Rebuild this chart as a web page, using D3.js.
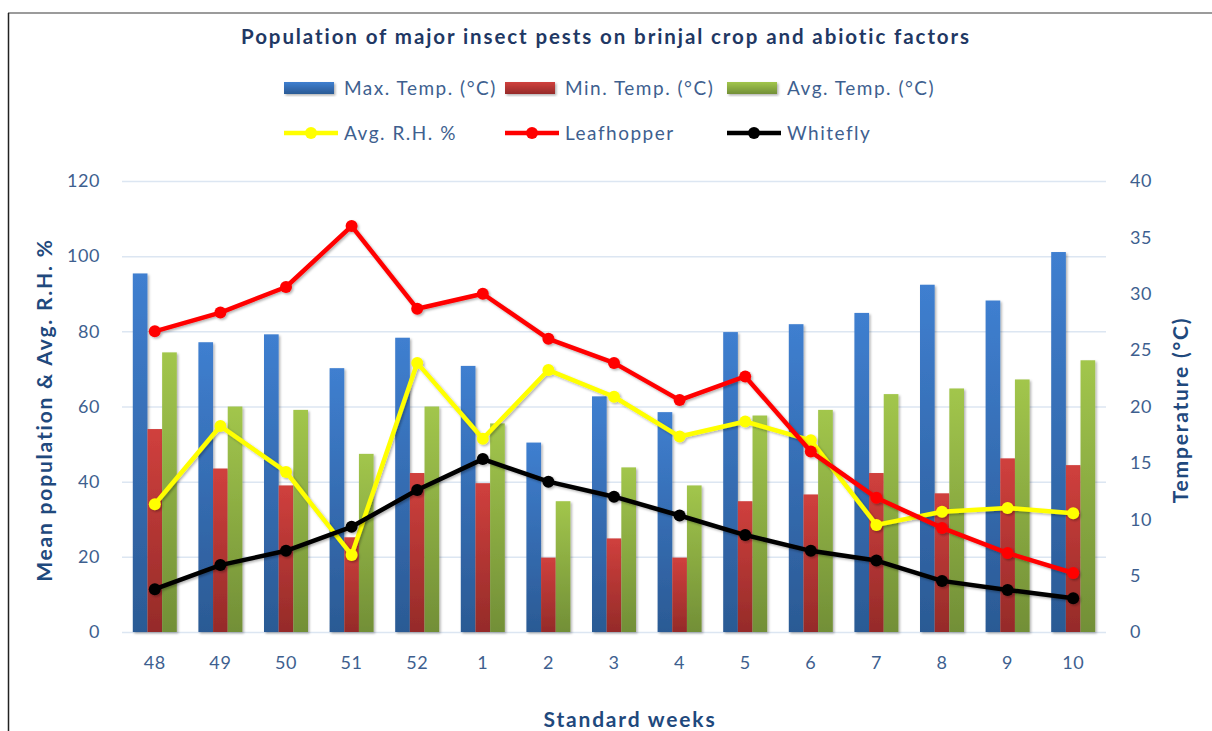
<!DOCTYPE html>
<html>
<head>
<meta charset="utf-8">
<script src="https://cdn.jsdelivr.net/npm/d3@7"></script>
<style>
  body { margin: 0; background: #fff; }
  svg { display: block; font-family: Lato, "Open Sans", sans-serif; }
  .tick text { fill: #3e5f8f; font-size: 18px; letter-spacing: 0.6px; }
  .grid line { stroke: #dce6f2; stroke-width: 1.5; }
  .axis-title { font-size: 21px; font-weight: bold; fill: #1f497d; letter-spacing: 1.8px; }
  .legend text { font-size: 19px; fill: #3e5f8f; letter-spacing: 1.5px; }
</style>
</head>
<body>
<svg id="chart" width="1212" height="731"></svg>
<script>
const weeks = ['48', '49', '50', '51', '52', '1', '2', '3', '4', '5', '6', '7', '8', '9', '10'];
const maxTemp = [31.8, 25.7, 26.4, 23.4, 26.1, 23.6, 16.8, 20.9, 19.5, 26.6, 27.3, 28.3, 30.8, 29.4, 33.7];
const minTemp = [18.0, 14.5, 13.0, 8.4, 14.1, 13.2, 6.6, 8.3, 6.6, 11.6, 12.2, 14.1, 12.3, 15.4, 14.8];
const avgTemp = [24.8, 20.0, 19.7, 15.8, 20.0, 18.5, 11.6, 14.6, 13.0, 19.2, 19.7, 21.1, 21.6, 22.4, 24.1];
const avgRH = [34, 54.8, 42.6, 20.5, 71.6, 51.4, 69.7, 62.6, 52, 56, 51, 28.5, 32, 33, 31.6];
const leafhopper = [80, 85, 91.8, 108, 86, 90, 78, 71.6, 61.7, 68, 48, 35.7, 27.7, 21, 15.7];
const whitefly = [11.4, 17.8, 21.6, 28, 37.8, 46, 40, 36, 31, 25.8, 21.6, 19, 13.6, 11.2, 9];
const leftTicks = [0, 20, 40, 60, 80, 100, 120];
const rightTicks = [0, 5, 10, 15, 20, 25, 30, 35, 40];

const barSeries = [
  { name: 'Max. Temp. (°C)', values: maxTemp, top: '#3f7fd0', bottom: '#2b5a94', id: 'gBlue' },
  { name: 'Min. Temp. (°C)', values: minTemp, top: '#d0403d', bottom: '#952b29', id: 'gRed' },
  { name: 'Avg. Temp. (°C)', values: avgTemp, top: '#a2c64c', bottom: '#728f37', id: 'gGreen' },
];
const lineSeries = [
  { name: 'Avg. R.H. %', values: avgRH, color: '#ffff00' },
  { name: 'Leafhopper', values: leafhopper, color: '#ff0000' },
  { name: 'Whitefly', values: whitefly, color: '#000000' },
];

const margin = { top: 181, right: 106, bottom: 99, left: 122 };
const width = 1212 - margin.left - margin.right;
const height = 731 - margin.top - margin.bottom;

const svg = d3.select('#chart');
const defs = svg.append('defs');

barSeries.forEach(s => {
  const g = defs.append('linearGradient')
    .attr('id', s.id)
    .attr('x1', 0).attr('y1', 0).attr('x2', 0).attr('y2', 1);
  g.append('stop').attr('offset', '0%').attr('stop-color', s.top);
  g.append('stop').attr('offset', '100%').attr('stop-color', s.bottom);
});

const shadow = defs.append('filter').attr('id', 'shadow')
  .attr('x', '-20%').attr('y', '-20%').attr('width', '140%').attr('height', '140%');
shadow.append('feDropShadow')
  .attr('dx', 1.5).attr('dy', 1.5).attr('stdDeviation', 1.2)
  .attr('flood-color', '#000').attr('flood-opacity', 0.3);

// frame
svg.append('line').attr('x1', 8).attr('x2', 1212).attr('y1', 13).attr('y2', 13)
  .attr('stroke', '#7a7a7a').attr('stroke-width', 1.5);
svg.append('line').attr('x1', 8.5).attr('x2', 8.5).attr('y1', 13).attr('y2', 731)
  .attr('stroke', '#222').attr('stroke-width', 1.5);

svg.append('text')
  .attr('x', 606).attr('y', 44)
  .attr('text-anchor', 'middle')
  .attr('font-size', 20.5).attr('font-weight', 'bold')
  .attr('letter-spacing', 1.9)
  .attr('fill', '#1f3864')
  .text('Population of major insect pests on brinjal crop and abiotic factors');

const x = d3.scaleBand().domain(weeks).range([0, width]);
const xInner = d3.scaleBand().domain(barSeries.map(s => s.id))
  .range([x.bandwidth() / 2 - 22, x.bandwidth() / 2 + 22]);
const yLeft = d3.scaleLinear().domain([0, 120]).range([height, 0]);
const yRight = d3.scaleLinear().domain([0, 40]).range([height, 0]);

const canvas = svg.append('g')
  .attr('transform', `translate(${margin.left},${margin.top})`);

canvas.append('g')
  .attr('class', 'grid')
  .call(d3.axisLeft(yLeft).tickValues(leftTicks).tickSize(-width).tickFormat(''))
  .call(g => g.select('.domain').remove());

// bars
barSeries.forEach(s => {
  canvas.append('g')
    .attr('filter', 'url(#shadow)')
    .selectAll('rect')
    .data(s.values)
    .join('rect')
    .attr('x', (d, i) => x(weeks[i]) + xInner(s.id))
    .attr('width', xInner.bandwidth())
    .attr('y', d => yRight(d))
    .attr('height', d => yRight(0) - yRight(d))
    .attr('fill', `url(#${s.id})`);
});

// lines
const line = d3.line()
  .x((d, i) => x(weeks[i]) + x.bandwidth() / 2)
  .y(d => yLeft(d));

lineSeries.forEach(s => {
  const g = canvas.append('g').attr('filter', 'url(#shadow)');
  g.append('path')
    .datum(s.values)
    .attr('d', line)
    .attr('fill', 'none')
    .attr('stroke', s.color)
    .attr('stroke-width', 4.5)
    .attr('stroke-linejoin', 'round');
  g.selectAll('circle')
    .data(s.values)
    .join('circle')
    .attr('cx', (d, i) => x(weeks[i]) + x.bandwidth() / 2)
    .attr('cy', d => yLeft(d))
    .attr('r', 6)
    .attr('fill', s.color);
});

// axes
canvas.append('g')
  .attr('transform', `translate(0,${height})`)
  .call(d3.axisBottom(x).tickSize(0).tickPadding(24))
  .call(g => g.select('.domain').remove());

canvas.append('g')
  .call(d3.axisLeft(yLeft).tickValues(leftTicks).tickSize(0).tickPadding(22))
  .call(g => g.select('.domain').remove());

canvas.append('g')
  .attr('transform', `translate(${width},0)`)
  .call(d3.axisRight(yRight).tickValues(rightTicks).tickSize(0).tickPadding(24))
  .call(g => g.select('.domain').remove());

svg.selectAll('.tick text').attr('font-family', 'Lato, sans-serif');

svg.append('text')
  .attr('class', 'axis-title')
  .attr('transform', 'translate(52,410) rotate(-90)')
  .attr('text-anchor', 'middle')
  .text('Mean population & Avg. R.H. %');

svg.append('text')
  .attr('class', 'axis-title')
  .attr('transform', 'translate(1188,410) rotate(-90)')
  .attr('text-anchor', 'middle')
  .text('Temperature (°C)');

svg.append('text')
  .attr('class', 'axis-title')
  .attr('x', 630).attr('y', 727)
  .attr('text-anchor', 'middle')
  .text('Standard weeks');

// legend
const legendX = [284, 505, 727];
const legend = svg.append('g').attr('class', 'legend');
const barLegend = legend.append('g').selectAll('g')
  .data(barSeries)
  .join('g')
  .attr('transform', (d, i) => `translate(${legendX[i]},88)`);
barLegend.append('rect')
  .attr('x', 0).attr('y', -6).attr('width', 50).attr('height', 12)
  .attr('fill', d => `url(#${d.id})`)
  .attr('filter', 'url(#shadow)');
barLegend.append('text')
  .attr('x', 60).attr('y', 7)
  .text(d => d.name);

const lineLegend = legend.append('g').selectAll('g')
  .data(lineSeries)
  .join('g')
  .attr('transform', (d, i) => `translate(${legendX[i]},133)`);
lineLegend.append('line')
  .attr('x1', 0).attr('x2', 54)
  .attr('stroke', d => d.color).attr('stroke-width', 4.5);
lineLegend.append('circle')
  .attr('cx', 27).attr('r', 6)
  .attr('fill', d => d.color);
lineLegend.append('text')
  .attr('x', 60).attr('y', 7)
  .text(d => d.name);
</script>
</body>
</html>
